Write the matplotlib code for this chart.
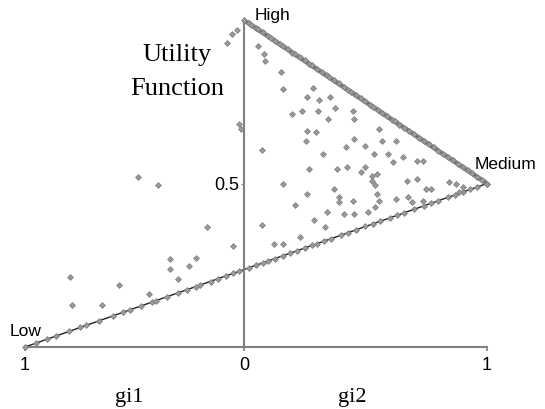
import numpy as np
import matplotlib.pyplot as plt

# gi values: negative x = gi1 side (left), positive x = gi2 side (right)
# points lying in the interior of the chart
inner_x = [0.060, 0.082, 0.085, 0.154, 0.161, 0.283, 0.261, 0.354, 0.308, 0.376,
           0.197, 0.240, 0.304, 0.347, 0.448, 0.455, 0.261, 0.254, 0.297, 0.555,
           0.570, 0.627, 0.075, 0.326, 0.419, 0.455, 0.498, 0.534, 0.591, 0.656,
           0.613, 0.713, 0.735, 0.268, 0.383, 0.426, 0.498, 0.527, 0.548, 0.527,
           0.483, 0.161, 0.369, 0.261, 0.541, 0.548, 0.670, 0.713, 0.749, 0.770,
           0.842, 0.871, 0.211, 0.390, 0.390, 0.448, 0.555, 0.627, 0.677, 0.692,
           0.735, 0.290, 0.340, 0.412, 0.455, 0.512, 0.541, 0.075, 0.333, 0.125,
           0.161, 0.232, 0.900, 0.885,
           -0.076, -0.056, -0.032, -0.021, -0.013, -0.482, -0.390, -0.167, -0.049,
           -0.339, -0.220, -0.252, -0.339, -0.299, -0.793, -0.570, -0.785, -0.650,
           -0.435]
inner_y = [0.922, 0.896, 0.876, 0.840, 0.789, 0.792, 0.764, 0.764, 0.754, 0.731,
           0.713, 0.723, 0.723, 0.698, 0.723, 0.698, 0.662, 0.631, 0.659, 0.667,
           0.631, 0.631, 0.601, 0.591, 0.611, 0.636, 0.616, 0.591, 0.591, 0.580,
           0.565, 0.570, 0.568, 0.545, 0.545, 0.550, 0.550, 0.524, 0.530, 0.509,
           0.535, 0.499, 0.484, 0.468, 0.494, 0.468, 0.509, 0.514, 0.484, 0.484,
           0.504, 0.499, 0.433, 0.458, 0.443, 0.448, 0.448, 0.453, 0.458, 0.443,
           0.448, 0.387, 0.412, 0.407, 0.407, 0.412, 0.428, 0.372, 0.367, 0.316,
           0.316, 0.336, 0.489, 0.473,
           0.929, 0.957, 0.969, 0.682, 0.667, 0.519, 0.496, 0.367, 0.308,
           0.270, 0.273, 0.249, 0.239, 0.209, 0.214, 0.191, 0.127, 0.127,
           0.163]

# points sitting on the Low - Medium edge
low_x = [-1.0, -0.95, -0.9, -0.86, -0.8, -0.75, -0.72, -0.66, -0.6, -0.55, -0.52,
         -0.47, -0.42, -0.4, -0.35, -0.3, -0.26, -0.22, -0.2, -0.15, -0.12, -0.08,
         -0.05, -0.02, 0.02, 0.05, 0.08, 0.1, 0.13, 0.16, 0.19, 0.22, 0.25, 0.28,
         0.3, 0.33, 0.36, 0.4, 0.43, 0.46, 0.5, 0.53, 0.56, 0.6, 0.63, 0.66, 0.7,
         0.74, 0.77, 0.8, 0.84, 0.87, 0.9, 0.93, 0.96, 1.0]
low_y = [0.0, 0.012, 0.025, 0.033, 0.048, 0.06, 0.066, 0.08, 0.095, 0.107, 0.113,
         0.126, 0.137, 0.142, 0.154, 0.166, 0.175, 0.185, 0.19, 0.2, 0.208, 0.218,
         0.225, 0.232, 0.242, 0.25, 0.258, 0.263, 0.27, 0.279, 0.287, 0.295, 0.303,
         0.311, 0.316, 0.324, 0.331, 0.342, 0.35, 0.358, 0.369, 0.376, 0.384, 0.395,
         0.403, 0.41, 0.421, 0.432, 0.44, 0.448, 0.458, 0.466, 0.474, 0.482, 0.49,
         0.5]

# points sitting on the High - Medium edge
high_x = [0.0, 0.02, 0.03, 0.05, 0.06, 0.08, 0.1, 0.11, 0.13, 0.15, 0.16, 0.18,
          0.2, 0.21, 0.23, 0.25, 0.27, 0.28, 0.3, 0.32, 0.34, 0.35, 0.37, 0.39,
          0.41, 0.43, 0.44, 0.46, 0.48, 0.5, 0.52, 0.53, 0.55, 0.57, 0.59, 0.61,
          0.62, 0.64, 0.66, 0.68, 0.7, 0.72, 0.74, 0.76, 0.78, 0.8, 0.82, 0.84,
          0.86, 0.88, 0.9, 0.92, 0.94, 0.96, 0.98, 1.0]
high_y = [1.0, 0.992, 0.986, 0.977, 0.972, 0.962, 0.952, 0.946, 0.937, 0.927, 0.92,
          0.912, 0.9, 0.896, 0.886, 0.877, 0.866, 0.861, 0.851, 0.84, 0.831, 0.826,
          0.816, 0.806, 0.795, 0.786, 0.78, 0.771, 0.76, 0.751, 0.741, 0.735, 0.726,
          0.715, 0.706, 0.695, 0.69, 0.68, 0.671, 0.66, 0.651, 0.64, 0.631, 0.62,
          0.611, 0.6, 0.591, 0.58, 0.571, 0.56, 0.551, 0.54, 0.531, 0.52, 0.511,
          0.5]

edge_low_x = [-1.0, 1.0]
edge_low_y = [0.0, 0.5]
edge_high_x = [0.0, 1.0]
edge_high_y = [1.0, 0.5]

corner_names = ['Low', 'High', 'Medium']
tick_labels = ['1', '0', '1']

left_scale = 0.9  # gi1 half is drawn a bit narrower than gi2 half


def px(x):
    x = np.asarray(x, dtype=float)
    return np.where(x < 0, x * left_scale, x)


fig = plt.figure(figsize=(5.45, 4.09), dpi=100)
ax = fig.add_axes([25 / 545, 62 / 409, 462 / 545, 327 / 409])

ax.plot(px(edge_low_x), edge_low_y, color='#222222', lw=1.0, zorder=2)
ax.plot(px(edge_high_x), edge_high_y, color='#8a8a8a', lw=3.5, zorder=2,
        solid_capstyle='butt')
ax.plot(px(edge_high_x), edge_high_y, color='#555555', lw=0.8, zorder=2)

mk = dict(ls='none', marker='D', ms=3.0, mfc='#9a9a9a', mec='#7a7a7a',
          mew=0.5, clip_on=False, zorder=3)
ax.plot(px(high_x), high_y, **mk)
ax.plot(px(low_x), low_y, **mk)
ax.plot(px(inner_x), inner_y, **mk)

ax.set_xlim(-left_scale, 1)
ax.set_ylim(0, 1)

for s in ['top', 'right']:
    ax.spines[s].set_visible(False)
ax.spines['left'].set_position(('data', 0))
for s in ['left', 'bottom']:
    ax.spines[s].set_color('#808080')
    ax.spines[s].set_linewidth(1.5)

ax.set_xticks([-left_scale, 0, 1])
ax.set_xticklabels(tick_labels)
ax.set_yticks([0.5])
ax.set_yticklabels(['0.5'])
ax.tick_params(axis='x', direction='out', length=3, width=1.2, color='#808080',
               pad=4, labelsize=13)
ax.tick_params(axis='y', direction='out', length=2, width=1.0, color='#808080',
               pad=1, labelsize=13)
for t in ax.get_xticklabels() + ax.get_yticklabels():
    t.set_family('Liberation Sans')

ax.text(-0.963, 0.046, corner_names[0], ha='left', va='center', fontsize=12.5,
        family='Liberation Sans')
ax.text(0.045, 1.015, corner_names[1], ha='left', va='center', fontsize=12.5,
        family='Liberation Sans')
ax.text(0.951, 0.557, corner_names[2], ha='left', va='center', fontsize=12.5,
        family='Liberation Sans', clip_on=False)

fig.text(177 / 545, 1 - 61 / 409, 'Utility', ha='center', va='baseline',
         fontsize=19, family='Liberation Serif')
fig.text(177 / 545, 1 - 95 / 409, 'Function', ha='center', va='baseline',
         fontsize=19, family='Liberation Serif')
fig.text(129 / 545, 1 - 402 / 409, 'gi1', ha='center', va='baseline', fontsize=16,
         family='Liberation Serif')
fig.text(352 / 545, 1 - 402 / 409, 'gi2', ha='center', va='baseline', fontsize=16,
         family='Liberation Serif')

fig.savefig('out.png', dpi=100)
